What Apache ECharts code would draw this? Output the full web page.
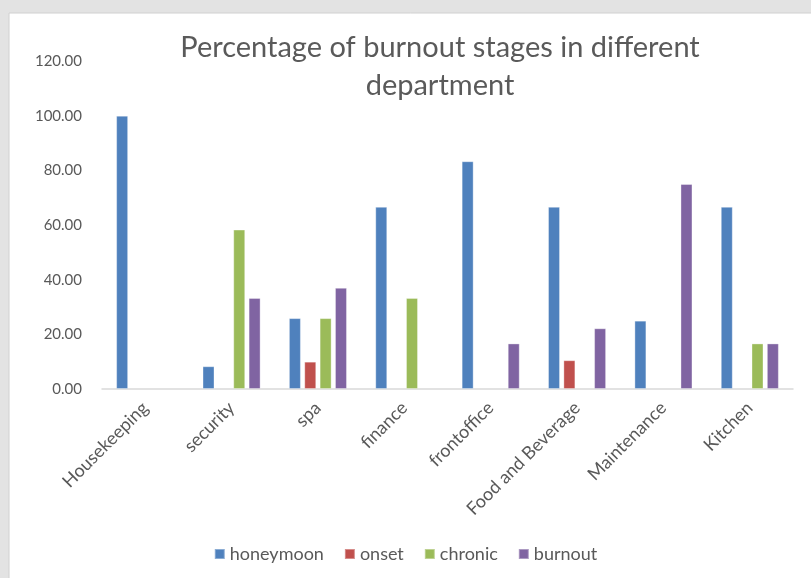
<!DOCTYPE html>
<html>
<head>
<meta charset="utf-8">
<script src="https://cdn.jsdelivr.net/npm/echarts@6/dist/echarts.min.js"></script>
<style>
  html, body { margin: 0; padding: 0; background: #e3e3e3; }
  #main { width: 811px; height: 578px; }
</style>
</head>
<body>
<div id="main"></div>
<script>
// departments on the x axis
const departments = ['Housekeeping', 'security', 'spa', 'finance', 'frontoffice', 'Food and Beverage', 'Maintenance', 'Kitchen'];

// percentage per stage
const honeymoon = [100, 8.33, 25.93, 66.67, 83.33, 66.67, 25, 66.67];
const onset = [null, null, 10, null, null, 10.53, null, null];
const chronic = [null, 58.33, 25.93, 33.33, null, null, null, 16.67];
const burnout = [null, 33.33, 37.04, null, 16.67, 22.22, 75, 16.67];

const stageNames = ['honeymoon', 'onset', 'chronic', 'burnout'];
const stageColors = ['#4f81bd', '#c0504d', '#9bbb59', '#8064a2'];
const stageData = [honeymoon, onset, chronic, burnout];

const textColor = '#595959';
const fontName = 'Lato, "Open Sans", sans-serif';

const chart = echarts.init(document.getElementById('main'));

const option = {
    backgroundColor: '#e3e3e3',
    animation: false,
    textStyle: {
        fontFamily: fontName,
        color: textColor
    },
    graphic: [{
        type: 'rect',
        shape: { x: 9, y: 13, width: 810, height: 570 },
        style: { fill: '#ffffff', stroke: '#d0d0d0', lineWidth: 1 },
        z: -10
    }],
    title: {
        text: 'Percentage of burnout stages in different\ndepartment',
        left: 435,
        textAlign: 'center',
        top: 24,
        textStyle: {
            fontFamily: fontName,
            fontWeight: 'normal',
            fontSize: 29,
            lineHeight: 38,
            color: '#5a5a5a'
        }
    },
    legend: {
        bottom: 10,
        left: 'center',
        itemWidth: 10,
        itemHeight: 10,
        itemGap: 20,
        icon: 'rect',
        textStyle: {
            fontFamily: fontName,
            fontSize: 18,
            color: textColor
        },
        data: stageNames
    },
    grid: {
        left: 102,
        right: 18,
        top: 61,
        bottom: 189
    },
    xAxis: {
        type: 'category',
        data: departments,
        axisLine: { lineStyle: { color: '#d9d9d9', width: 1.5 } },
        axisTick: { show: false },
        axisLabel: {
            rotate: 45,
            fontSize: 18,
            color: textColor,
            margin: 16
        }
    },
    yAxis: {
        type: 'value',
        min: 0,
        max: 120,
        interval: 20,
        axisLine: { show: false },
        axisTick: { show: false },
        splitLine: { show: false },
        axisLabel: {
            fontSize: 15,
            color: textColor,
            margin: 20,
            formatter: v => v.toFixed(2)
        }
    },
    series: stageNames.map((name, i) => ({
        name: name,
        type: 'bar',
        data: stageData[i],
        barWidth: 12,
        barGap: '28%',
        itemStyle: {
            color: stageColors[i],
            borderColor: 'rgba(255,255,255,0.35)',
            borderWidth: 1
        }
    }))
};

chart.setOption(option);
</script>
</body>
</html>
